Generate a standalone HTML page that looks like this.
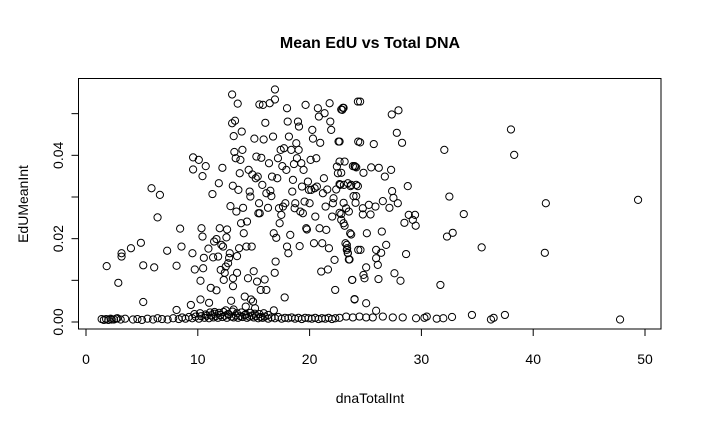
<!DOCTYPE html>
<html><head><meta charset="utf-8"><style>
html,body{margin:0;padding:0;background:#fff;}
svg{display:block;font-family:"Liberation Sans",Arial,sans-serif;}
</style></head><body>
<svg id="chart" width="701" height="428" viewBox="0 0 701 428" xmlns="http://www.w3.org/2000/svg">
<rect width="701" height="428" fill="#fff"/>
<text x="370" y="48" text-anchor="middle" font-size="16" font-weight="bold">Mean EdU vs Total DNA</text>
<text x="370" y="403" text-anchor="middle" font-size="14">dnaTotalInt</text>
<text transform="translate(28,204) rotate(-90)" text-anchor="middle" font-size="14">EdUMeanInt</text>
<rect x="78.5" y="78.5" width="582.5" height="250.5" fill="none" stroke="#000" stroke-width="1"/>
<g id="xaxis"></g>
<g id="yaxis"></g>
<g id="points"></g>
</svg>
<script>
// dnaTotalInt values
const dnaX = [
1.85,2.89,3.18,3.18,4.02,4.91,5.12,5.12,5.86,6.10,6.61,6.40,7.26,8.10,8.42,8.54,8.10,9.38,9.52,9.58,9.58,9.73,10.09,10.24,10.42,10.33,10.42,10.48,10.24,10.54,10.71,10.95,11.01,11.16,11.31,11.37,11.46,11.67,11.67,11.82,11.88,11.96,12.05,12.11,12.20,12.26,12.32,12.41,12.50,12.56,12.62,12.71,12.80,12.86,12.92,12.98,13.07,13.07,13.13,13.15,13.15,13.21,13.27,13.33,13.39,13.45,13.51,13.51,13.57,13.63,13.69,13.75,13.81,13.87,13.93,13.99,14.05,14.11,14.20,14.29,14.35,14.40,14.49,14.55,14.64,14.70,14.76,14.82,14.88,14.94,15.00,15.06,15.12,15.18,15.24,15.30,15.36,15.42,15.48,15.51,15.54,15.63,15.68,15.77,15.83,15.89,15.98,16.04,16.13,16.13,16.28,16.37,16.43,16.49,16.58,16.64,16.73,16.79,16.88,16.90,16.90,16.96,17.02,17.11,17.17,17.26,17.32,17.41,17.47,17.56,17.62,17.71,17.77,17.83,17.92,17.98,17.98,18.04,18.10,18.15,18.27,18.36,18.45,18.51,18.60,18.66,18.72,18.81,18.87,18.96,19.02,19.05,19.11,19.17,19.26,19.32,19.40,19.46,19.55,19.64,19.70,19.76,19.85,19.94,20.00,20.09,20.15,20.24,20.30,20.39,20.45,20.51,20.60,20.65,20.74,20.83,20.89,20.95,21.04,21.13,21.19,21.28,21.34,21.43,21.49,21.58,21.64,21.73,21.79,21.85,21.93,22.02,22.08,22.14,22.23,22.29,22.38,22.44,22.53,22.59,22.68,22.74,22.83,22.92,22.98,23.07,23.13,23.21,23.27,23.36,23.42,23.51,23.63,23.72,23.81,23.87,23.93,24.02,24.08,24.17,24.32,24.35,24.35,
22.83,23.04,22.68,22.68,22.83,22.68,23.04,22.83,23.04,23.13,23.33,23.33,23.42,23.57,23.51,23.42,23.66,23.72,23.81,24.02,24.02,24.11,24.17,24.17,24.32,24.52,24.52,24.55,24.76,24.76,24.82,24.82,24.91,25.06,25.06,25.12,25.30,25.45,25.51,25.74,25.89,25.95,25.95,26.10,26.16,26.19,26.40,26.46,26.55,26.73,26.85,27.14,27.29,27.35,27.38,27.50,27.59,27.80,27.89,27.95,28.13,28.27,28.48,28.63,28.78,28.87,29.23,29.43,29.49,31.70,32.05,32.29,32.50,32.80,33.79,35.39,38.01,38.30,41.04,41.13,49.38,
31.37,31.96,32.74,34.52,36.22,36.46,37.47,47.77,29.52,30.27,30.48,28.33,27.44,25.95,26.55,25.65,25.06,24.46,23.87,23.27,22.68,
1.6,1.8,2.0,2.2,2.5,2.8,3.1,3.5,4.2,4.6,5.0,5.5,6.0,6.4,6.8,7.3,7.8,8.3,8.6,8.9,9.2,9.5,9.8,10.1,10.3,10.6,10.8,11.0,11.2,11.4,11.6,11.8,12.0,12.2,12.4,12.6,12.8,13.0,13.2,13.4,13.6,13.8,14.0,14.2,14.4,14.6,14.8,15.0,15.2,15.4,15.6,15.8,16.0,16.3,16.6,16.9,17.2,17.5,17.8,18.1,18.4,18.7,19.0,19.3,19.6,19.9,20.2,20.5,20.8,21.1,21.4,21.7,22.0,22.3,
9.7,10.2,10.7,11.1,11.5,11.9,12.3,12.7,13.1,13.5,13.9,14.3,14.7,15.1,15.5,15.9,16.3,11.5,12.5,13.2,16.8,1.4,2.3,2.7
];
// EdUMeanInt values, in units of 1e-3
const eduY = [
13.4,9.4,16.5,15.7,17.7,19.0,13.6,4.8,32.1,13.1,30.5,25.1,17.1,13.5,22.4,18.1,2.9,4.1,16.5,36.6,39.5,12.6,38.9,9.9,35.0,22.5,20.5,12.9,5.4,15.4,37.4,17.6,4.6,8.2,30.7,15.5,19.3,19.9,7.6,15.7,33.3,22.5,12.5,18.5,37.0,18.1,10.1,11.8,13.3,20.3,22.2,14.1,15.4,16.5,27.8,5.1,54.6,47.7,32.7,10.5,8.6,44.6,40.8,48.3,39.3,26.5,15.8,11.8,52.4,31.7,17.7,35.7,38.9,23.7,45.7,41.3,27.4,21.3,6.1,3.7,18.1,24.1,10.5,36.5,31.3,30.1,5.4,18.1,35.4,4.9,12.2,44.0,3.3,34.5,39.7,9.7,34.9,26.1,28.5,52.2,26.1,7.7,39.4,32.9,52.1,43.8,10.2,47.8,7.7,30.9,27.4,38.1,52.5,31.5,30.2,34.9,44.5,21.3,11.8,53.4,55.8,14.5,20.2,34.5,39.3,27.3,23.7,41.3,25.7,37.4,27.7,41.7,5.9,28.5,36.5,18.1,51.3,48.1,16.5,44.5,20.9,41.3,31.3,34.1,37.9,27.3,28.5,42.9,39.3,48.1,41.3,46.9,18.2,26.5,38.1,32.5,26.1,36.5,28.9,52.1,22.5,22.2,33.7,31.7,28.5,38.9,31.7,46.1,44.0,18.9,32.1,25.3,39.3,32.5,51.3,49.3,22.5,43.0,12.1,18.9,30.9,34.5,50.1,27.7,22.1,31.8,12.6,17.7,52.5,48.1,46.1,25.3,28.5,29.7,14.9,7.7,31.8,37.3,35.7,43.3,26.2,32.9,24.5,50.9,51.4,32.9,38.5,18.9,27.3,17.7,16.5,15.0,21.3,32.9,10.1,37.4,30.2,5.4,37.3,32.9,52.9,43.3,17.3,
51.0,51.4,43.3,38.5,35.8,33.1,28.6,25.9,23.7,23.1,18.5,17.3,16.6,15.0,26.5,33.3,32.6,21.0,10.1,37.4,5.5,28.6,30.2,37.1,32.6,52.9,43.1,17.3,27.3,25.8,35.8,11.3,10.5,13.1,4.5,21.3,28.1,25.8,37.1,42.7,27.7,17.3,15.3,13.7,10.3,37.0,16.6,21.7,29.0,34.9,18.5,27.4,36.5,49.8,31.4,29.8,11.7,45.4,28.5,50.8,9.9,43.0,23.8,16.3,32.6,25.7,24.5,25.7,23.1,8.9,41.3,20.5,30.1,21.4,25.9,17.9,46.2,40.1,16.6,28.5,29.3,
0.8,0.9,1.2,1.7,0.6,1.0,1.7,0.6,0.9,1.0,1.3,1.1,1.1,2.7,1.3,1.1,1.1,1.3,1.1,1.3,1.0,
0.5,0.7,0.5,0.8,0.6,0.9,0.6,0.8,0.6,0.7,0.5,0.8,0.6,0.9,0.7,0.6,0.9,0.7,1.1,0.8,1.2,0.9,1.3,0.8,1.4,1.0,1.5,0.9,1.6,1.1,1.4,1.0,1.7,1.2,1.5,1.0,1.8,1.3,1.1,1.6,1.0,1.4,1.2,1.7,1.0,1.3,1.5,1.1,1.4,0.9,1.2,1.0,1.3,0.8,1.1,0.9,1.2,0.8,1.0,0.9,1.1,0.8,1.0,0.7,1.0,0.9,0.8,1.0,0.7,0.9,0.8,1.0,0.7,0.9,
1.9,2.1,1.8,2.3,2.0,2.2,2.4,1.9,2.5,2.1,2.3,1.8,2.2,2.0,1.9,2.1,1.7,2.4,2.8,3.0,2.8,0.7,0.6,0.8
];
const xTicks = [0,10,20,30,40,50];
const xTickLabels = ["0","10","20","30","40","50"];
const yTicks = [0,0.01,0.02,0.03,0.04,0.05];
const yTickLabels = ["0.00","","0.02","","0.04",""];

const NS = "http://www.w3.org/2000/svg";
function sx(v){ return 86 + v*11.18; }
function sy(v){ return 322 - v*4167; }
function mk(tag, attrs, parent){
  const e = document.createElementNS(NS, tag);
  for (const k in attrs) e.setAttribute(k, attrs[k]);
  parent.appendChild(e); return e;
}
const gx = document.getElementById('xaxis');
mk('line',{x1:sx(xTicks[0]),x2:sx(xTicks[xTicks.length-1]),y1:329,y2:329,stroke:'#000'},gx);
xTicks.forEach((t,i)=>{
  const l = mk('line',{x1:sx(t),x2:sx(t),y1:329,y2:336,stroke:'#000'},gx);
  
  
  const tx = mk('text',{x:sx(t),y:364,'text-anchor':'middle','font-size':14},gx);
  
  
  tx.textContent = xTickLabels[i];
});
const gy = document.getElementById('yaxis');
mk('line',{x1:78.5,x2:78.5,y1:sy(yTicks[0]),y2:sy(yTicks[yTicks.length-1]),stroke:'#000'},gy);
yTicks.forEach((t,i)=>{
  const l = mk('line',{x1:71.5,x2:78.5,y1:sy(t),y2:sy(t),stroke:'#000'},gy);
  
  
  if (yTickLabels[i]) {
    const tx = mk('text',{transform:'translate(63,'+sy(t)+') rotate(-90)','text-anchor':'middle','font-size':14},gy);
    
    
    tx.textContent = yTickLabels[i];
  }
});
const gp = document.getElementById('points');
for (let i=0;i<dnaX.length && i<eduY.length;i++){
  const c = mk('circle',{cx:sx(dnaX[i]),cy:sy(eduY[i]/1000),r:3.6,fill:'none',stroke:'#000','stroke-width':1},gp);
  
  
}
</script>
</body></html>
